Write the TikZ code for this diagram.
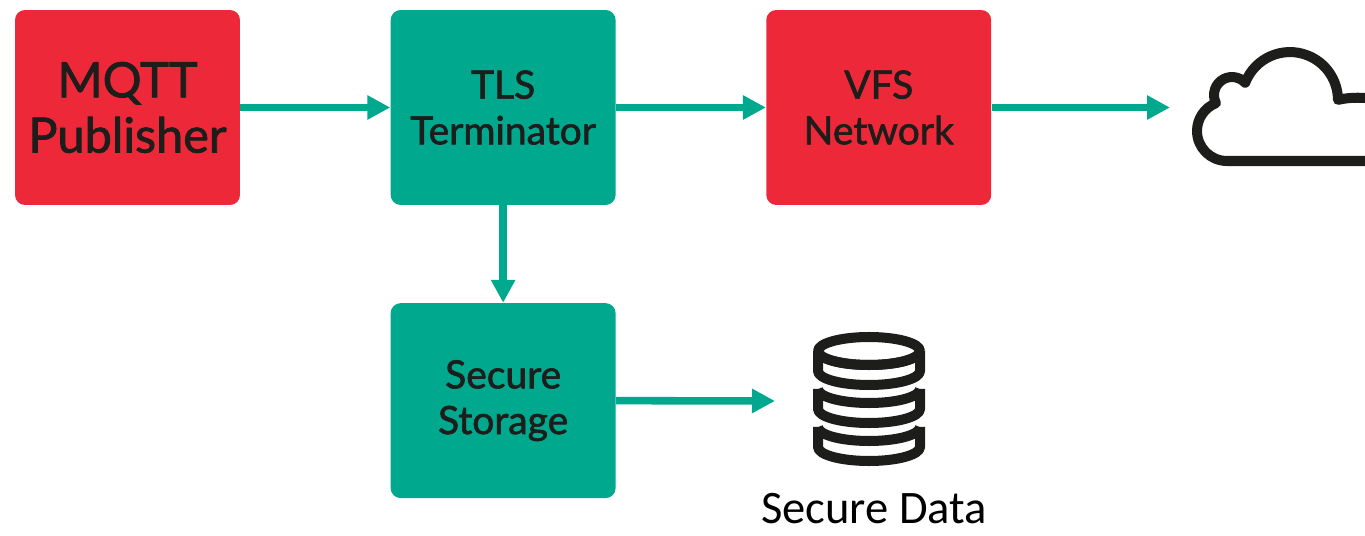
\documentclass[tikz,border=0pt]{standalone}
\usepackage{fontspec}
\setmainfont{Lato}[FakeBold=1.6]
\newfontfamily\calib{Carlito}
\usetikzlibrary{arrows.meta, positioning}
\definecolor{kred}{HTML}{ED2939}
\definecolor{kgreen}{HTML}{00A88E}
\definecolor{kink}{HTML}{1D1D1B}

\begin{document}
\begin{tikzpicture}[x=0.02cm, y=0.02cm,
        box/.style={rectangle, rounded corners=0.2cm, minimum width=4.5cm, minimum height=3.9cm,
            inner sep=0pt, align=center, text=kink, font=\fontsize{22.2pt}{26pt}\selectfont},
        redbox/.style={box, fill=kred},
        greenbox/.style={box, fill=kgreen},
        flow/.style={draw=kgreen, line width=4.3pt, -{Triangle[length=0.46cm, width=0.46cm]}},
        icon/.style={draw=kink, line width=5.7pt, line join=round}
    ]
    \useasboundingbox (0,0) rectangle (1365,-536);
    \node[redbox, font=\fontsize{27.7pt}{31.5pt}\selectfont] (mqtt) at (127.5,-107.5) {MQTT\\Publisher};
    \node[greenbox, right=3cm of mqtt] (tls) {TLS\\Terminator};
    \node[redbox, right=3cm of tls] (vfs) {VFS\\Network};
    \node[greenbox, below=1.95cm of tls] (store) {Secure\\Storage};
    \coordinate (cloudin) at (1170,-107.5);
    \coordinate (dbin) at (775,-401);
    \node[font=\calib\fontsize{26.5pt}{28pt}\selectfont, text=black, inner sep=0pt, anchor=base] (dblabel) at (874,-523) {Secure Data};

    \draw[flow] (mqtt) -- (tls);
    \draw[flow] (tls) -- (vfs);
    \draw[flow] (vfs) -- (cloudin);
    \draw[flow] (tls) -- (store);
    \draw[flow] (store.east) -- (dbin);

    \begin{scope}
        \clip (0,0) rectangle (1365,-536);
        \draw[icon] (1227,-161) arc[start angle=270, end angle=111.7, radius=30]
            arc[start angle=206.7, end angle=42.9, radius=18]
            arc[start angle=158.9, end angle=0.2, radius=48]
            .. controls (1350,-97) and (1365,-97) .. (1380,-100) -- (1400,-100) -- (1400,-161) -- cycle;
    \end{scope}

    \draw[icon] (869,-351) ellipse[x radius=51, y radius=14];
    \foreach \t in {351,389,427}
        \draw[icon] (818,-\t) arc[start angle=180, end angle=360, x radius=51, y radius=14]
            (818,-\t) -- ++(0,-20) arc[start angle=180, end angle=360, x radius=51, y radius=14] -- ++(0,20);
\end{tikzpicture}
\end{document}
